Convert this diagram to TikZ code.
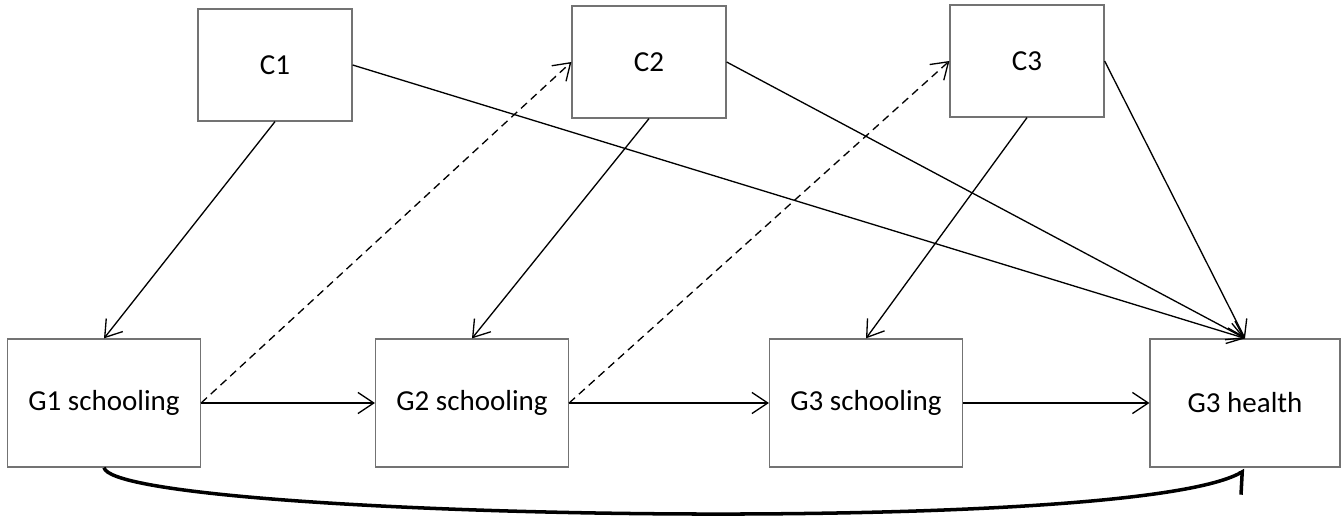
\documentclass[tikz,border=0pt]{standalone}
\usepackage{fontspec}
\setmainfont{Carlito}
\usetikzlibrary{arrows.meta,positioning}

\begin{document}
\begin{tikzpicture}[
	cbox/.style={draw=black!55,line width=0.7pt,minimum width=3.08cm,minimum height=2.24cm,font=\fontsize{16.5}{20}\selectfont},
	gbox/.style={draw=black!55,line width=0.7pt,minimum width=3.86cm,minimum height=2.56cm,font=\fontsize{16.5}{20}\selectfont},
	arr/.style={line width=0.75pt,-{Straight Barb[length=9pt,width=12pt]}},
	darr/.style={arr,dash pattern=on 4.5pt off 3pt}]
	\useasboundingbox (0,0) rectangle (26.82,10.36);
	\node[cbox] (c1) at (5.50,9.06)  {C1};
	\node[cbox] (c2) at (12.98,9.12)  {C2};
	\node[cbox] (c3) at (20.54,9.14)  {C3};
	\node[gbox] (g1s) at (2.08,2.30)  {G1 schooling};
	\node[gbox] (g2s) at (9.44,2.30)  {G2 schooling};
	\node[gbox] (g3s) at (17.32,2.30)  {G3 schooling};
	\node[gbox,minimum width=3.80cm] (g3h) at (24.90,2.30)  {G3 health};
	\draw[arr] (c1.south)--(g1s.north);
	\draw[arr] (c2.south)--(g2s.north);
	\draw[arr] (c3.south)--(g3s.north);
	\draw[arr] (c1.east)--(g3h.north);
	\draw[arr] (c2.east)--(g3h.north);
	\draw[arr] (c3.east)--(g3h.north);
	\draw[darr] (g1s.east)--(c2.west);
	\draw[darr] (g2s.east)--(c3.west);
	\draw[arr] (g1s.east)--(g2s.west);
	\draw[arr] (g2s.east)--(g3s.west);
	\draw[arr] (g3s.east)--(g3h.west);
	\draw[line width=2pt,-{Straight Barb[right,length=7pt,width=22pt]}] (g1s.south) .. controls (2.3,0) and (22.5,-0.4) .. ([yshift=-1.5pt]g3h.south);
\end{tikzpicture}
\end{document}
